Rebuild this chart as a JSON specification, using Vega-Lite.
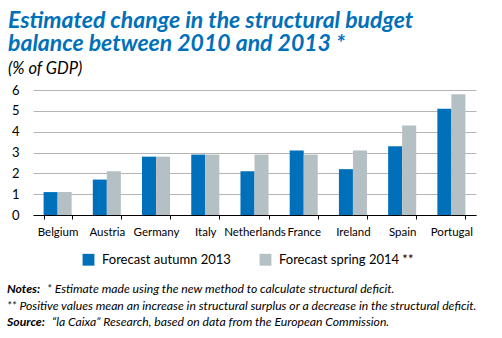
{
  "$schema": "https://vega.github.io/schema/vega-lite/v6.json",
  "width": 443,
  "height": 125,
  "autosize": {"type": "none"},
  "padding": {"left": 33, "top": 90, "right": 26, "bottom": 123},
  "background": "white",
  "title": {
    "text": ["Estimated change in the structural budget", "balance between 2010 and 2013 *"],
    "subtitle": "(% of GDP)",
    "anchor": "start",
    "frame": "group",
    "dx": -25,
    "offset": 7,
    "font": "Lato",
    "fontSize": 23,
    "fontWeight": "bold",
    "fontStyle": "italic",
    "color": "#0070bb",
    "lineHeight": 23,
    "subtitleFont": "Lato",
    "subtitleFontSize": 16.5,
    "subtitleFontStyle": "italic",
    "subtitleColor": "#000000",
    "subtitlePadding": 5
  },
  "config": {
    "view": {"stroke": null},
    "font": "Lato"
  },
  "layer": [
    {
      "data": {
        "values": [
          {"country": "Belgium", "series": "Forecast autumn 2013", "value": 1.1},
          {"country": "Belgium", "series": "Forecast spring 2014 **", "value": 1.1},
          {"country": "Austria", "series": "Forecast autumn 2013", "value": 1.7},
          {"country": "Austria", "series": "Forecast spring 2014 **", "value": 2.1},
          {"country": "Germany", "series": "Forecast autumn 2013", "value": 2.8},
          {"country": "Germany", "series": "Forecast spring 2014 **", "value": 2.8},
          {"country": "Italy", "series": "Forecast autumn 2013", "value": 2.9},
          {"country": "Italy", "series": "Forecast spring 2014 **", "value": 2.9},
          {"country": "Netherlands", "series": "Forecast autumn 2013", "value": 2.1},
          {"country": "Netherlands", "series": "Forecast spring 2014 **", "value": 2.9},
          {"country": "France", "series": "Forecast autumn 2013", "value": 3.1},
          {"country": "France", "series": "Forecast spring 2014 **", "value": 2.9},
          {"country": "Ireland", "series": "Forecast autumn 2013", "value": 2.2},
          {"country": "Ireland", "series": "Forecast spring 2014 **", "value": 3.1},
          {"country": "Spain", "series": "Forecast autumn 2013", "value": 3.3},
          {"country": "Spain", "series": "Forecast spring 2014 **", "value": 4.3},
          {"country": "Portugal", "series": "Forecast autumn 2013", "value": 5.1},
          {"country": "Portugal", "series": "Forecast spring 2014 **", "value": 5.8}
        ]
      },
      "mark": {"type": "bar"},
      "encoding": {
        "x": {
          "field": "country",
          "type": "nominal",
          "sort": null,
          "scale": {"paddingInner": 0.43, "paddingOuter": 0.215},
          "axis": {
            "title": null,
            "labelAngle": 0,
            "labelFont": "Lato",
            "labelFontSize": 11.5,
            "labelColor": "#000000",
            "labelPadding": 7,
            "labelOverlap": false,
            "domainColor": "#000000",
            "domainWidth": 1.2,
            "tickColor": "#000000",
            "tickSize": 4,
            "tickBand": "extent",
            "grid": false
          }
        },
        "xOffset": {"field": "series", "type": "nominal", "scale": {"paddingInner": 0}},
        "y": {
          "field": "value",
          "type": "quantitative",
          "scale": {"domain": [0, 6], "nice": false},
          "axis": {
            "title": null,
            "values": [0, 1, 2, 3, 4, 5, 6],
            "labelOverlap": false,
            "domain": false,
            "ticks": false,
            "labelPadding": 14,
            "labelFont": "Lato",
            "labelFontSize": 13,
            "labelColor": "#000000",
            "gridColor": "#b5b5b5",
            "gridWidth": 1
          }
        },
        "color": {
          "field": "series",
          "type": "nominal",
          "scale": {"range": ["#0070bb", "#b4c0c4"]},
          "legend": {
            "title": null,
            "orient": "none",
            "legendX": 49,
            "legendY": 163,
            "direction": "horizontal",
            "symbolType": "square",
            "symbolSize": 140,
            "symbolStrokeWidth": 0,
            "labelFont": "Lato",
            "labelFontSize": 13,
            "labelColor": "#000000",
            "labelOffset": 7,
            "columnPadding": 28
          }
        }
      }
    },
    {
      "data": {"values": [{"text": "Notes:"}]},
      "mark": {"type": "text", "align": "left", "baseline": "alphabetic", "font": "Lato", "fontSize": 12.2, "fontStyle": "italic", "fontWeight": "bold", "color": "#000000"},
      "encoding": {
        "text": {"field": "text"},
        "x": {"value": -26},
        "y": {"value": 203}
      }
    },
    {
      "data": {"values": [{"text": "* Estimate made using the new method to calculate structural deficit."}]},
      "mark": {"type": "text", "align": "left", "baseline": "alphabetic", "font": "Lato", "fontSize": 12.2, "fontStyle": "italic", "color": "#000000"},
      "encoding": {
        "text": {"field": "text"},
        "x": {"value": 14},
        "y": {"value": 203}
      }
    },
    {
      "data": {"values": [{"text": "** Positive values mean an increase in structural surplus or a decrease in the structural deficit."}]},
      "mark": {"type": "text", "align": "left", "baseline": "alphabetic", "font": "Lato", "fontSize": 12.2, "fontStyle": "italic", "color": "#000000"},
      "encoding": {
        "text": {"field": "text"},
        "x": {"value": -26},
        "y": {"value": 219.5}
      }
    },
    {
      "data": {"values": [{"text": "Source:"}]},
      "mark": {"type": "text", "align": "left", "baseline": "alphabetic", "font": "Lato", "fontSize": 12.2, "fontStyle": "italic", "fontWeight": "bold", "color": "#000000"},
      "encoding": {
        "text": {"field": "text"},
        "x": {"value": -26},
        "y": {"value": 236}
      }
    },
    {
      "data": {"values": [{"text": "\u201cla Caixa\u201d Research, based on data from the European Commission."}]},
      "mark": {"type": "text", "align": "left", "baseline": "alphabetic", "font": "Lato", "fontSize": 12.2, "fontStyle": "italic", "color": "#000000"},
      "encoding": {
        "text": {"field": "text"},
        "x": {"value": 19},
        "y": {"value": 236}
      }
    }
  ]
}
